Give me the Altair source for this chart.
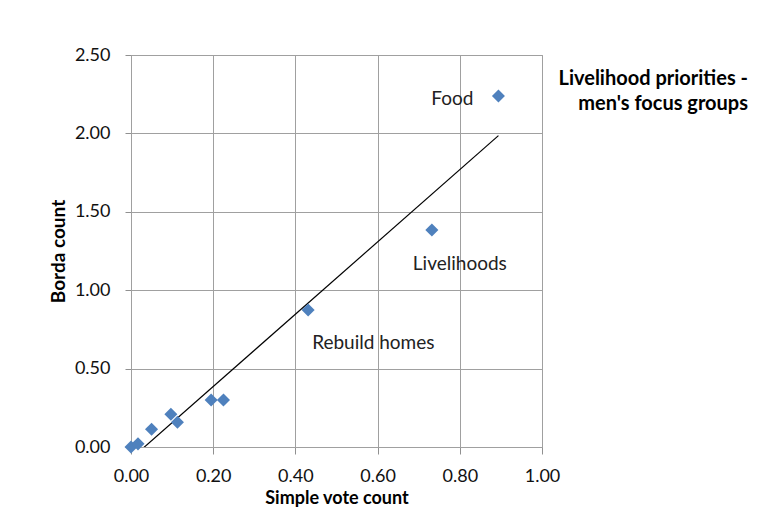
import altair as alt
import pandas as pd

simple_vote = [0.00, 0.017, 0.050, 0.097, 0.113, 0.195, 0.225, 0.431, 0.732, 0.894]
borda = [0.00, 0.02, 0.113, 0.209, 0.158, 0.30, 0.30, 0.874, 1.384, 2.238]
labels = ["", "", "", "", "", "", "", "Rebuild homes", "Livelihoods", "Food"]

x_ticks = [0, 0.2, 0.4, 0.6, 0.8, 1.0]
y_ticks = [0, 0.5, 1.0, 1.5, 2.0, 2.5]

df = pd.DataFrame({"x": simple_vote, "y": borda, "label": labels})

FONT = "Lato"
base = alt.Chart(df)

xenc = alt.X("x:Q", scale=alt.Scale(domain=[0, 1], nice=False, zero=False),
             axis=alt.Axis(values=x_ticks, format=".2f", title="Simple vote count"))
yenc = alt.Y("y:Q", scale=alt.Scale(domain=[0, 2.5], nice=False, zero=False),
             axis=alt.Axis(values=y_ticks, format=".2f", title="Borda count"))

points = base.mark_point(shape="diamond", filled=True, size=170, color="#4f81bd",
                         opacity=1).encode(x=xenc, y=yenc)

trend = base.transform_regression("x", "y").mark_line(
    color="black", strokeWidth=1.2, clip=True).encode(x="x:Q", y="y:Q")

def lab(name, align, dx, dy):
    return base.transform_filter(alt.datum.label == name).mark_text(
        align=align, baseline="middle", dx=dx, dy=dy, fontSize=19, font=FONT,
        color="#222222").encode(x="x:Q", y="y:Q", text="label:N")

chart = alt.layer(
    trend, points,
    lab("Food", "right", -25, 3),
    lab("Livelihoods", "left", -19, 34),
    lab("Rebuild homes", "left", 4, 33),
).properties(
    width=411, height=392,
    padding={"left": 123, "top": 47, "right": 210, "bottom": 70},
    autosize=alt.AutoSizeParams(type="none"),
    background="white",
    title=alt.TitleParams(
        text=["Livelihood priorities -", "men's focus groups"],
        anchor="end", align="right", orient="top", frame="group",
        dx=206, dy=72, font=FONT, fontSize=20, fontWeight="bold",
        color="black", lineHeight=25, baseline="top"),
).configure_view(
    stroke="#a0a0a0", strokeWidth=1
).configure_axis(
    grid=True, gridColor="#a0a0a0", gridWidth=1, gridOpacity=1,
    domainColor="#a0a0a0", tickColor="#909090", tickSize=7,
    labelFlush=False, labelOverlap=False,
    labelFont=FONT, labelFontSize=18, labelColor="#111111",
    titleFont=FONT, titleFontSize=19, titleFontWeight="bold", titleColor="black",
).configure_axisY(
    labelPadding=15, titlePadding=6, tickSize=6
).configure_axisX(
    labelPadding=13, titlePadding=4, titleFontSize=18
)

chart.save("out.html", embed_options={"renderer": "svg", "actions": False})
